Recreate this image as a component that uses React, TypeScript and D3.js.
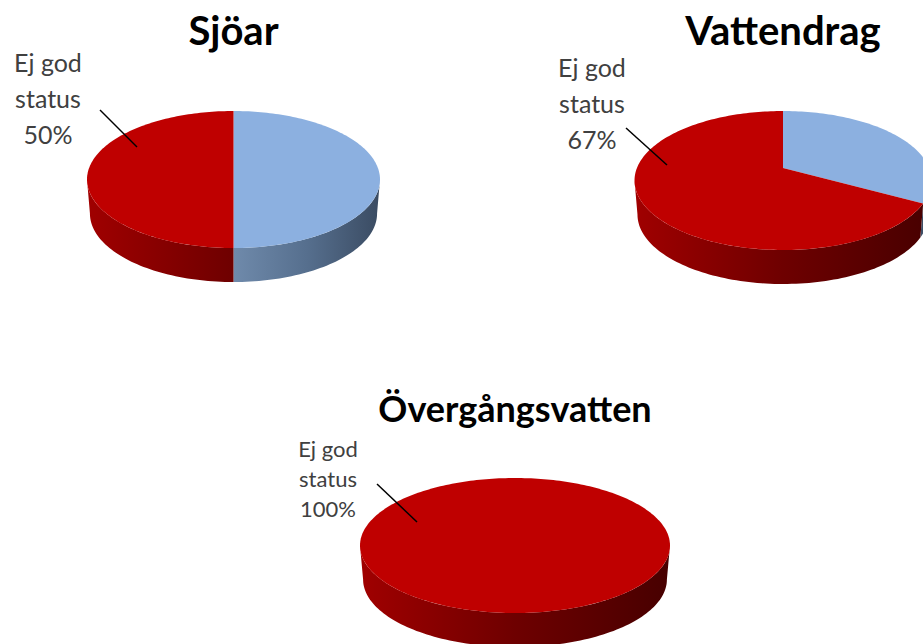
import * as d3 from "d3";

const titles = ["Sjöar", "Vattendrag", "Övergångsvatten"];
const godStatus = [50, 33, 0];
const ejGodStatus = [50, 67, 100];
const labelLines = ["Ej god", "status"];

const RED = "#bf0000";
const BLUE = "#8cb0e0";
const redWall = ["#a00000", "#6e0000", "#470000"];
const blueWall = ["#6f8aab", "#566f8e", "#3a4b62"];

// layout of each pie: ellipse box, label and leader line
const layouts = [
  { cx: 233.5, rx: 146.5, top: 111, bottom: 248, titleY: 45, titleSize: 40, labelX: 48, labelY: 72, lineGap: 36, labelSize: 25, leader: [100, 110, 137, 147] },
  { cx: 783, rx: 148.5, top: 111, bottom: 250, titleY: 45, titleSize: 40, labelX: 592, labelY: 77, lineGap: 36, labelSize: 25, leader: [626, 128, 667, 165] },
  { cx: 515, rx: 155, top: 478, bottom: 613, titleY: 422, titleSize: 36, labelX: 328, labelY: 457, lineGap: 30, labelSize: 22, leader: [377, 484, 417, 522] },
];

const DEPTH = 34;
const PERSPECTIVE = 0.18; // far half of the disc looks shorter than the near half
const BASE_SHRINK = 0.98;

type Layout = (typeof layouts)[number];

// angle clockwise from 12 o'clock -> screen position on the top face
const project = (l: Layout) => {
  const k = 1 - PERSPECTIVE * PERSPECTIVE;
  const a = l.rx * Math.sqrt(k);
  const b = ((l.bottom - l.top) * k) / 2;
  const y0 = l.top + b / (1 + PERSPECTIVE);
  return (t: number): [number, number] => {
    const u = Math.sin(t);
    const v = -Math.cos(t);
    const w = 1 - PERSPECTIVE * v;
    return [l.cx + (a * u) / w, y0 + (b * v) / w];
  };
};

const sample = (t0: number, t1: number) => {
  const n = Math.max(2, Math.ceil(Math.abs(t1 - t0) * 40));
  return d3.range(n + 1).map((i) => t0 + ((t1 - t0) * i) / n);
};

const toPath = d3.line();

const Pie3D = ({ index }: { index: number }) => {
  const l = layouts[index];
  const pt = project(l);
  const values = [godStatus[index], ejGodStatus[index]];
  const arcs = d3.pie<number>().sort(null)(values);
  const full = ejGodStatus[index] === 100;

  // part of the rim that faces the viewer
  const visFrom = Math.acos(-PERSPECTIVE);
  const visTo = 2 * Math.PI - visFrom;
  const base = (p: [number, number]): [number, number] => [
    l.cx + (p[0] - l.cx) * BASE_SHRINK,
    p[1] + DEPTH,
  ];

  const walls = arcs.map((arc) => {
    const t0 = Math.max(arc.startAngle, visFrom);
    const t1 = Math.min(arc.endAngle, visTo);
    if (t1 <= t0) return null;
    const rim = sample(t0, t1).map(pt);
    return toPath([...rim, ...rim.slice().reverse().map(base)]);
  });

  const faces = arcs.map((arc) => {
    if (arc.endAngle - arc.startAngle <= 0) return null;
    const rim = sample(arc.startAngle, arc.endAngle).map(pt);
    return toPath(full ? rim : [pt(0).slice(0, 1).concat(project(l)(0)[1]) as [number, number], ...rim]);
  });

  // centre of the disc on screen, where the slices meet
  const k = 1 - PERSPECTIVE * PERSPECTIVE;
  const apexY = l.top + ((l.bottom - l.top) * k) / 2 / (1 + PERSPECTIVE);
  const facePaths = arcs.map((arc, i) => {
    if (!faces[i]) return null;
    const rim = sample(arc.startAngle, arc.endAngle).map(pt);
    return toPath(full ? rim : [[l.cx, apexY] as [number, number], ...rim]) + "Z";
  });

  const gradX = d3.scaleLinear().domain([0, 1]).range([l.cx - l.rx, l.cx + l.rx]);
  const stops = (colors: string[]) =>
    colors.map((c, i) => <stop key={i} offset={i / (colors.length - 1)} stopColor={c} />);

  return (
    <g>
      <defs>
        <linearGradient id={`blue-${index}`} gradientUnits="userSpaceOnUse" x1={l.cx} x2={gradX(1)} y1={0} y2={0}>
          {stops(blueWall)}
        </linearGradient>
        <linearGradient id={`red-${index}`} gradientUnits="userSpaceOnUse" x1={gradX(0)} x2={gradX(1)} y1={0} y2={0}>
          {stops(redWall)}
        </linearGradient>
      </defs>
      {walls.map((d, i) =>
        d ? <path key={i} d={d + "Z"} fill={`url(#${i === 0 ? "blue" : "red"}-${index})`} /> : null
      )}
      {facePaths.map((d, i) => (d ? <path key={i} d={d} fill={i === 0 ? BLUE : RED} /> : null))}
      <text
        x={l.cx}
        y={l.titleY}
        textAnchor="middle"
        fontFamily="Lato"
        fontWeight={700}
        fontSize={l.titleSize}
        fill="#000"
      >
        {titles[index]}
      </text>
      {[...labelLines, `${ejGodStatus[index]}%`].map((s, i) => (
        <text
          key={i}
          x={l.labelX}
          y={l.labelY + i * l.lineGap}
          textAnchor="middle"
          fontFamily="Lato"
          fontSize={l.labelSize}
          fill="#404040"
        >
          {s}
        </text>
      ))}
      <line x1={l.leader[0]} y1={l.leader[1]} x2={l.leader[2]} y2={l.leader[3]} stroke="#000" strokeWidth={1.5} />
    </g>
  );
};

export default function App() {
  return (
    <svg
      width={923}
      height={644}
      viewBox="0 0 923 644"
      style={{ position: "absolute", left: 0, top: 0, display: "block", background: "#fff" }}
    >
      {titles.map((_, i) => (
        <Pie3D key={i} index={i} />
      ))}
    </svg>
  );
}
